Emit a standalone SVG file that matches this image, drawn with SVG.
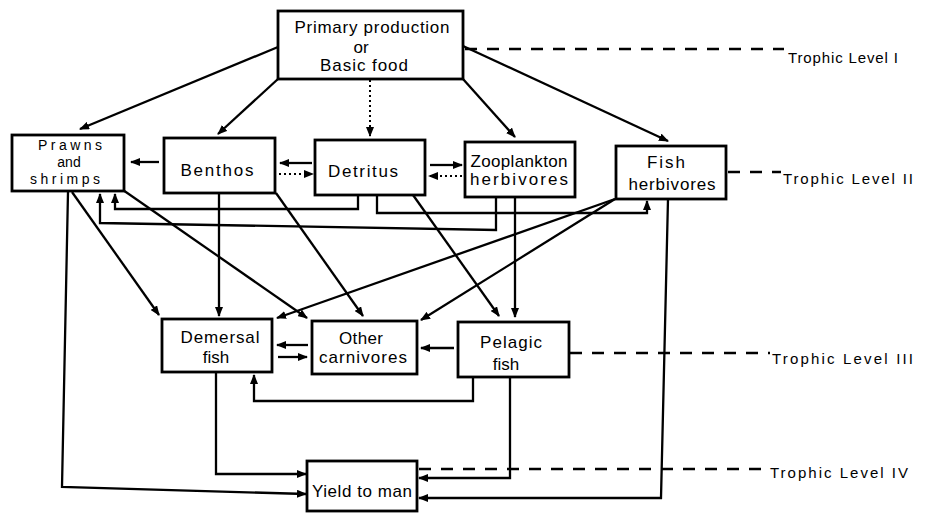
<svg xmlns="http://www.w3.org/2000/svg" width="926" height="513" viewBox="0 0 926 513">
<defs>
<marker id="ah" viewBox="0 0 10 8" refX="9" refY="4" markerWidth="10" markerHeight="8" markerUnits="userSpaceOnUse" orient="auto"><path d="M0,0 L10,4 L0,8 z" fill="#000"/></marker>
<style>
.box{fill:#fff;stroke:#000;stroke-width:2.8}
.t{font-family:"Liberation Sans",Arial,sans-serif;font-size:17px;fill:#000;text-anchor:middle}
.s{font-size:14px}
.lv{font-family:"Liberation Sans",Arial,sans-serif;font-size:15px;fill:#000}
.c{fill:none;stroke:#000;stroke-width:2.3;marker-end:url(#ah)}
.d{fill:none;stroke:#000;stroke-width:2;stroke-dasharray:2 3;marker-end:url(#ah)}
.lvl{fill:none;stroke:#000;stroke-width:2.5;stroke-dasharray:12 10}
</style>
</defs>
<rect width="926" height="513" fill="#fff"/>
<g id="connectors">
<path class="c" d="M278,47 L80,129"/>
<path class="c" d="M278,79 L218,134"/>
<path class="d" d="M370,80 L370,136"/>
<path class="c" d="M463,79 L515,137"/>
<path class="c" d="M463,46 L668,141"/>
<path class="c" d="M159,162 L131,162"/>
<path class="c" d="M312,163 L280,163"/>
<path class="d" d="M279,174 L313,174"/>
<path class="c" d="M430,165 L462,165"/>
<path class="d" d="M462,176 L429,176"/>
<path class="c" d="M358,195 V209 H115 V194"/>
<path class="c" d="M377,195 V213 H647 V201"/>
<path class="c" d="M496,197 L496,230 L100,223 L100,194"/>
<path class="c" d="M515,197 V317"/>
<path class="c" d="M413,195 L499,316"/>
<path class="c" d="M219,193 V316"/>
<path class="c" d="M276,193 L363,316"/>
<path class="c" d="M72,192 L159,315"/>
<path class="c" d="M123,190 L307,318"/>
<path class="c" d="M68,192 L62,487 L306,494"/>
<path class="c" d="M216,373 V474 H306"/>
<path class="c" d="M510,377 V478 H419"/>
<path class="c" d="M668,199 L661,498 H419"/>
<path class="c" d="M473,377 V401 H254 V375"/>
<path class="c" d="M454,348 H421"/>
<path class="c" d="M308,345 H277"/>
<path class="c" d="M278,357 H307"/>
<path class="c" d="M615,199 L277,318"/>
<path class="c" d="M615,199 L421,320"/>
</g>
<g id="levels">
<path class="lvl" d="M465,49 H784"/>
<path class="lvl" d="M728,172 H781"/>
<path class="lvl" d="M570,353 H770"/>
<path class="lvl" d="M419,469 H768"/>
<text class="lv" x="788" y="63" textLength="110" lengthAdjust="spacing">Trophic Level I</text>
<text class="lv" x="783" y="184" textLength="130" lengthAdjust="spacing">Trophic Level II</text>
<text class="lv" x="772" y="364" textLength="141" lengthAdjust="spacing">Trophic Level III</text>
<text class="lv" x="770" y="478" textLength="138" lengthAdjust="spacing">Trophic Level IV</text>
</g>
<g id="primary">
<rect class="box" x="278" y="11" width="185" height="68"/>
<text class="t" x="372" y="33" textLength="155" lengthAdjust="spacing">Primary production</text>
<text class="t" x="361" y="53">or</text>
<text class="t" x="364" y="71" textLength="88" lengthAdjust="spacing">Basic food</text>
</g>
<g id="prawns">
<rect class="box" x="12" y="135" width="112" height="56"/>
<text class="t s" x="70" y="150" textLength="64" lengthAdjust="spacing">Prawns</text>
<text class="t s" x="69" y="167">and</text>
<text class="t s" x="65" y="184" textLength="70" lengthAdjust="spacing">shrimps</text>
</g>
<g id="benthos">
<rect class="box" x="164" y="138" width="111" height="55"/>
<text class="t" x="217" y="176" textLength="73" lengthAdjust="spacing">Benthos</text>
</g>
<g id="detritus">
<rect class="box" x="315" y="140" width="110" height="55"/>
<text class="t" x="363" y="177" textLength="70" lengthAdjust="spacing">Detritus</text>
</g>
<g id="zooplankton">
<rect class="box" x="465" y="142" width="110" height="55"/>
<text class="t" x="519" y="167" textLength="97" lengthAdjust="spacing">Zooplankton</text>
<text class="t" x="519" y="185" textLength="98" lengthAdjust="spacing">herbivores</text>
</g>
<g id="fishherb">
<rect class="box" x="616" y="146" width="110" height="53"/>
<text class="t" x="666" y="168" textLength="38" lengthAdjust="spacing">Fish</text>
<text class="t" x="672" y="190" textLength="87" lengthAdjust="spacing">herbivores</text>
</g>
<g id="demersal">
<rect class="box" x="162" y="319" width="110" height="53"/>
<text class="t" x="220" y="343" textLength="79" lengthAdjust="spacing">Demersal</text>
<text class="t" x="216" y="363">fish</text>
</g>
<g id="othercarn">
<rect class="box" x="312" y="321" width="105" height="53"/>
<text class="t" x="361" y="344" textLength="44" lengthAdjust="spacing">Other</text>
<text class="t" x="363" y="363" textLength="88" lengthAdjust="spacing">carnivores</text>
</g>
<g id="pelagic">
<rect class="box" x="458" y="322" width="111" height="55"/>
<text class="t" x="511" y="348" textLength="62" lengthAdjust="spacing">Pelagic</text>
<text class="t" x="506" y="370">fish</text>
</g>
<g id="yield">
<rect class="box" x="307" y="461" width="110" height="50"/>
<text class="t" x="362" y="497" textLength="100" lengthAdjust="spacing">Yield to man</text>
</g>
</svg>
